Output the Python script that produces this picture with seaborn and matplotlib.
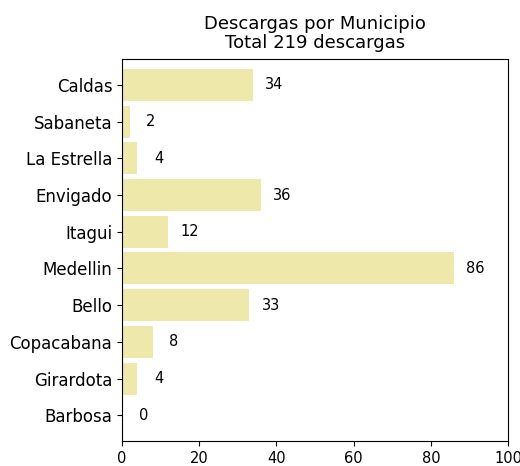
import matplotlib
matplotlib.use("Agg")
import matplotlib.pyplot as plt
import seaborn as sns
import pandas as pd

municipios = ["Caldas", "Sabaneta", "La Estrella", "Envigado", "Itagui",
              "Medellin", "Bello", "Copacabana", "Girardota", "Barbosa"]
descargas = [34, 2, 4, 36, 12, 86, 33, 8, 4, 0]

df = pd.DataFrame({"municipio": municipios, "descargas": descargas})

fig = plt.figure(figsize=(5.2, 4.66), dpi=100)
ax = fig.add_axes([0.2346, 0.0536, 0.7424, 0.8194])
sns.barplot(data=df, x="descargas", y="municipio", orient="h",
            color="palegoldenrod", saturation=1, width=0.87, ax=ax)
for i, v in enumerate(descargas):
    ax.text(v + 5.5, i, str(v), ha="center", va="center", fontsize=10.5)
ax.set_xlim(0, 100)
ax.set_ylim(9.7, -0.7)
ax.set_xlabel("")
ax.set_ylabel("")
ax.tick_params(axis="y", labelsize=12)
ax.tick_params(axis="x", labelsize=10.5)
ax.set_title("Descargas por Municipio\nTotal 219 descargas", fontsize=13,
             pad=8, linespacing=1.1)
fig.savefig("out.png", dpi=100)
